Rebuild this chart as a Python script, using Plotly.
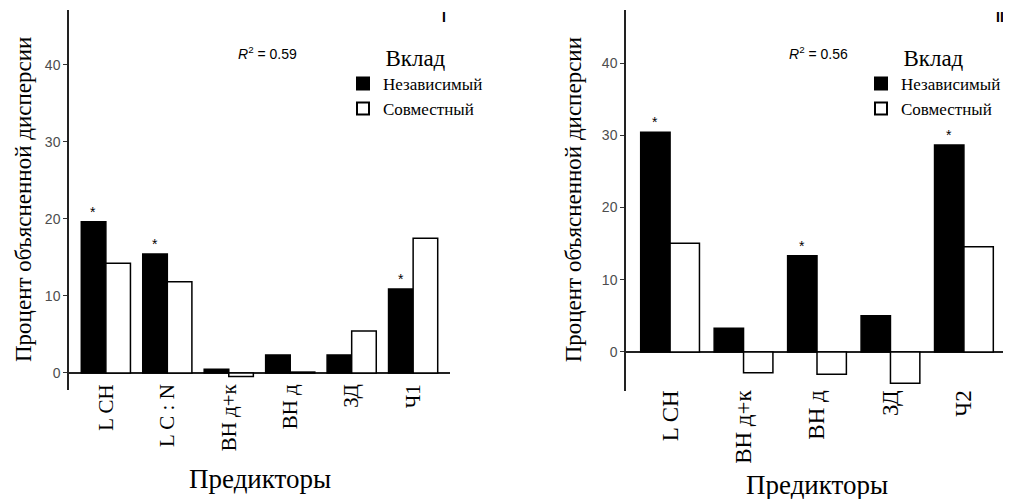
import plotly.graph_objects as go

# ---- data ----
cats_1 = ["L CH", "L C : N", "ВН д+к", "ВН д", "ЗД", "Ч1"]
indep_1 = [19.65, 15.45, 0.48, 2.34, 2.34, 10.9]
joint_1 = [14.25, 11.86, -0.45, 0.12, 5.45, 17.5]
sig_1 = [True, True, False, False, False, True]
r2_1 = 0.59

cats_2 = ["L CH", "ВН д+к", "ВН д", "ЗД", "Ч2"]
indep_2 = [30.4, 3.28, 13.33, 5.02, 28.65]
joint_2 = [15.05, -2.86, -3.09, -4.33, 14.57]
sig_2 = [True, False, True, False, True]
r2_2 = 0.56

yticks = [0, 10, 20, 30, 40]
series_names = ["Независимый", "Совместный"]
panel_labels = ["I", "II"]

OFF = 8  # default page body margin
W, H = 1011 - OFF, 499 - OFF
SERIF = "Liberation Serif"
SANS = "Liberation Sans"

def px_x(p):
    return (p - OFF) / W

def px_y(p):
    return 1 - (p - OFF) / H

fig = go.Figure()

panels = [
    dict(cats=cats_1, indep=indep_1, joint=joint_1, sig=sig_1, r2=r2_1,
         xa="x", ya="y", leg="legend", xdom=[px_x(69), px_x(450)],
         ydom=[px_y(390), px_y(10)], yr=[-2.21, 47.14], tickfs=21,
         standoff=-11,
         barhalf=12.5, legx=px_x(343), r2x=px_x(267), labx=px_x(444),
         ytitlex=px_x(23), xtitley=px_y(479)),
    dict(cats=cats_2, indep=indep_2, joint=joint_2, sig=sig_2, r2=r2_2,
         xa="x2", ya="y2", leg="legend2", xdom=[px_x(626), px_x(1008)],
         ydom=[px_y(390.7), px_y(10)], yr=[-5.36, 47.34], tickfs=23,
         standoff=-6,
         barhalf=15, legx=px_x(861), r2x=px_x(818), labx=px_x(1000),
         ytitlex=px_x(573), xtitley=px_y(485)),
]

annotations = []
for i, p in enumerate(panels):
    fig.add_trace(go.Bar(
        x=p["cats"], y=p["indep"], name=series_names[0],
        marker=dict(color="black", line=dict(color="black", width=1.5)),
        xaxis=p["xa"], yaxis=p["ya"], legend=p["leg"],
    ))
    fig.add_trace(go.Bar(
        x=p["cats"], y=p["joint"], name=series_names[1],
        marker=dict(color="white", line=dict(color="black", width=1.5)),
        xaxis=p["xa"], yaxis=p["ya"], legend=p["leg"],
    ))
    for c, v, s in zip(p["cats"], p["indep"], p["sig"]):
        if s:
            annotations.append(dict(
                x=c, y=v, xref=p["xa"], yref=p["ya"], text="*",
                showarrow=False, xshift=-p["barhalf"], yshift=0,
                xanchor="center", yanchor="bottom",
                font=dict(family=SANS, size=14, color="black")))
    annotations.append(dict(
        x=p["r2x"], y=px_y(53), xref="paper", yref="paper",
        xanchor="center", yanchor="middle",
        text=f"<i>R</i><sup>2</sup> = {p['r2']:.2f}", showarrow=False,
        font=dict(family=SANS, size=14, color="black")))
    annotations.append(dict(
        x=p["labx"], y=px_y(17), xref="paper", yref="paper",
        xanchor="center", yanchor="middle",
        text=f"<b>{panel_labels[i]}</b>", showarrow=False,
        font=dict(family=SANS, size=14, color="black")))
    annotations.append(dict(
        x=p["ytitlex"], y=(p["ydom"][0] + p["ydom"][1]) / 2,
        xref="paper", yref="paper", text="Процент объясненной дисперсии",
        xanchor="center", yanchor="middle",
        textangle=-90, showarrow=False,
        font=dict(family=SERIF, size=23, color="black")))
    annotations.append(dict(
        x=(p["xdom"][0] + p["xdom"][1]) / 2, y=p["xtitley"],
        xref="paper", yref="paper", text="Предикторы", showarrow=False,
        xanchor="center", yanchor="middle",
        font=dict(family=SERIF, size=27, color="black")))

    xkey = "xaxis" if i == 0 else "xaxis2"
    ykey = "yaxis" if i == 0 else "yaxis2"
    fig.update_layout({
        xkey: dict(domain=p["xdom"], anchor=p["ya"], showline=False,
                   showgrid=False, zeroline=False, ticks="",
                   tickangle=-90, ticklabelstandoff=p["standoff"],
                   tickfont=dict(family=SERIF, size=p["tickfs"], color="black"),
                   range=[-0.6, len(p["cats"]) - 0.4], fixedrange=True),
        ykey: dict(domain=p["ydom"], anchor=p["xa"], range=p["yr"],
                   tickvals=yticks, showline=True, linecolor="#222",
                   linewidth=1.5, ticks="outside", ticklen=4,
                   tickcolor="#333", tickwidth=1.2, showgrid=False,
                   zeroline=True, zerolinecolor="#222", zerolinewidth=1.5,
                   tickfont=dict(family=SANS, size=14, color="#4d4d4d")),
        p["leg"]: dict(x=p["legx"], y=px_y(36), xanchor="left", yanchor="top",
                       bgcolor="rgba(0,0,0,0)",
                       title=dict(text="Вклад", side="top center",
                                  font=dict(family=SERIF, size=23, color="black")),
                       font=dict(family=SERIF, size=17, color="black"),
                       tracegroupgap=0, itemsizing="constant"),
    })

fig.update_layout(
    width=W, height=H, margin=dict(l=0, r=0, t=0, b=0),
    paper_bgcolor="white", plot_bgcolor="white",
    barmode="group", bargap=0.2, bargroupgap=0,
    annotations=annotations, showlegend=True,
)

fig.write_html("out.html")
